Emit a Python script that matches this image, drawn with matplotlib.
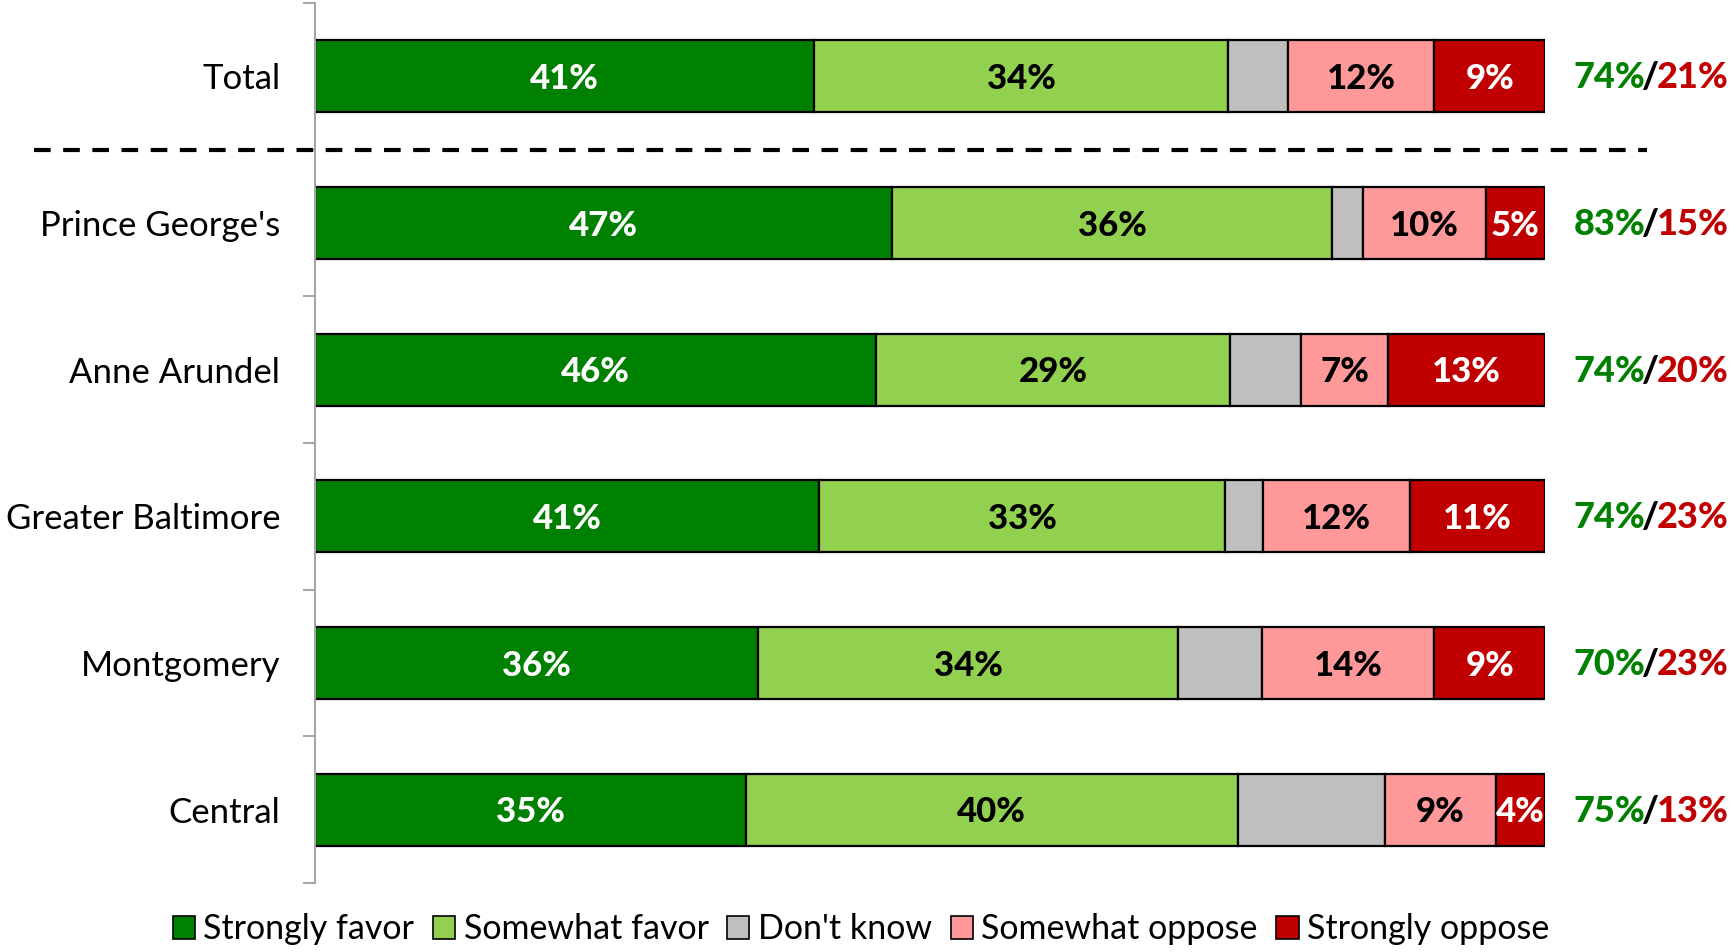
import matplotlib.pyplot as plt
import matplotlib.patches as mpatches
import numpy as np

plt.rcParams['font.family'] = ['Lato', 'DejaVu Sans']

regions = ["Total", "Prince George's", "Anne Arundel", "Greater Baltimore", "Montgomery", "Central"]

strongly_favor = [40.6, 46.9, 45.6, 41.0, 36.0, 35.0]
somewhat_favor = [33.6, 35.8, 28.8, 33.0, 34.2, 40.0]
dont_know = [4.9, 2.5, 5.8, 3.1, 6.8, 12.0]
somewhat_oppose = [11.9, 10.0, 7.0, 11.9, 14.0, 9.0]
strongly_oppose = [9.0, 4.8, 12.8, 11.0, 9.0, 4.0]

series = [
    ("Strongly favor", strongly_favor, "#008000", "white"),
    ("Somewhat favor", somewhat_favor, "#92D050", "black"),
    ("Don't know", dont_know, "#BFBFBF", None),
    ("Somewhat oppose", somewhat_oppose, "#FF9999", "black"),
    ("Strongly oppose", strongly_oppose, "#C00000", "white"),
]

fig = plt.figure(figsize=(17.29, 9.52), dpi=100)
ax = fig.add_axes([0.1822, 0.0725, 0.7114, 0.9243])

y = np.arange(len(regions))
left = np.zeros(len(regions))
handles = []
for name, vals, color, txt_color in series:
    vals = np.array(vals)
    ax.barh(y, vals, left=left, height=0.49, color=color,
            edgecolor="black", linewidth=1.6)
    if txt_color is not None:
        for yi, (l, v) in enumerate(zip(left, vals)):
            ax.annotate(f"{v:.0f}%", (l + v / 2, yi), xytext=(0, -2),
                        textcoords="offset points", ha="center", va="center",
                        color=txt_color, fontsize=25, fontweight="black")
    handles.append(mpatches.Patch(facecolor=color, edgecolor="black", linewidth=1.2, label=name))
    left = left + vals

# favor / oppose totals to the right of each bar
fav = np.array(strongly_favor) + np.array(somewhat_favor)
opp = np.array(somewhat_oppose) + np.array(strongly_oppose)
tr = ax.get_yaxis_transform()
xnet = 1.086
for yi in range(len(regions)):
    ax.annotate("/", (xnet, yi), xycoords=tr, xytext=(0, -1),
                textcoords="offset points", ha="center", va="center",
                fontsize=26, fontweight="black", color="black")
    ax.annotate(f"{fav[yi]:.0f}%", (xnet, yi), xycoords=tr, xytext=(-4, -1),
                textcoords="offset points", ha="right", va="center",
                fontsize=26, fontweight="black", color="#008000")
    ax.annotate(f"{opp[yi]:.0f}%", (xnet, yi), xycoords=tr, xytext=(4, -1),
                textcoords="offset points", ha="left", va="center",
                fontsize=26, fontweight="black", color="#C00000")

# dashed separator under Total
ax.plot([-0.2285, 1.083], [0.5, 0.5], transform=tr,
        color="black", linewidth=3.0, dashes=(4, 3), clip_on=False)

ax.set_xlim(0, 100)
ax.set_ylim(len(regions) - 0.5, -0.5)
ax.set_yticks(y)
ax.set_yticklabels(regions, fontsize=25)
ax.set_yticks(np.arange(-0.5, len(regions)), minor=True)
ax.tick_params(axis="y", which="major", length=0, pad=25)
ax.tick_params(axis="y", which="minor", length=9, width=1.5, color="#A6A6A6")
ax.set_xticks([])
for s in ["top", "right", "bottom"]:
    ax.spines[s].set_visible(False)
ax.spines["left"].set_color("#A6A6A6")
ax.spines["left"].set_linewidth(1.5)

fig.legend(handles=handles, loc="center", bbox_to_anchor=(0.498, 0.024), ncol=5,
           frameon=False, fontsize=24.5, handlelength=0.65, handleheight=0.65,
           handletextpad=0.25, columnspacing=0.55, borderaxespad=0)

fig.savefig("out.png", dpi=100)
